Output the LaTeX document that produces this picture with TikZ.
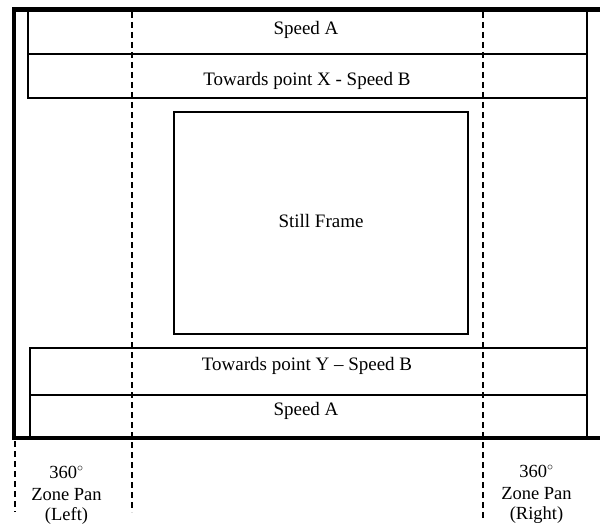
\documentclass[tikz,border=0pt]{standalone}
\usepackage{fontspec}
\setmainfont{Liberation Serif}
\begin{document}
\begin{tikzpicture}[x=1pt,y=-1pt,
  thin box/.style={draw=black,line width=1.1pt},
  frameline/.style={line width=4.5pt},
  zoneline/.style={line width=1.3pt,dash pattern=on 6pt off 4pt},
  lbl/.style={font=\fontsize{19}{22}\selectfont,inner sep=0pt,anchor=base},
  zlbl/.style={font=\fontsize{18.5}{22}\selectfont,inner sep=0pt,anchor=base}]
\useasboundingbox (0,0) rectangle (600,527);
% thick outer frame
\draw[frameline] (602,9.5) -- (14,9.5) -- (14,438) -- (602,438);
\draw[line width=1.6pt] (587,9.5) -- (587,438);
% top bands
\draw[thin box] (28,54) rectangle (587,98);
\draw[thin box] (28,12) -- (28,54);
% bottom bands
\draw[thin box] (30,348) rectangle (587,395);
\draw[thin box] (30,395) -- (30,438);
% still frame
\node[thin box,minimum width=294pt,minimum height=222pt,inner sep=0pt] (still) at (321,223) {};
\node[lbl] (stilltext) at (321,227) {Still Frame};
\node[lbl] (sa1) at (306,34.5) {Speed A};
\node[lbl] (tx) at (307,85) {Towards point X - Speed B};
\node[lbl] (ty) at (307,370) {Towards point Y – Speed B};
\node[lbl] (sa2) at (306,415) {Speed A};
% dashed zone lines
\coordinate (l1a) at (15,441);
\coordinate (l1b) at (15,512);
\coordinate (l2a) at (132,12);
\coordinate (l2b) at (132,512);
\coordinate (r1a) at (483,12);
\coordinate (r1b) at (483,518);
\draw[zoneline] (l1a) -- (l1b);
\draw[zoneline] (l2a) -- (l2b);
\draw[zoneline] (r1a) -- (r1b);
% labels
\node[zlbl] (zl1) at (66.5,478) {360$^{\circ}$};
\node[zlbl] (zl2) at (66.5,500) {Zone Pan};
\node[zlbl] (zl3) at (66.5,520) {(Left)};
\node[zlbl] (zr1) at (536.5,477) {360$^{\circ}$};
\node[zlbl] (zr2) at (536.5,499) {Zone Pan};
\node[zlbl] (zr3) at (536.5,519) {(Right)};
\end{tikzpicture}
\end{document}
